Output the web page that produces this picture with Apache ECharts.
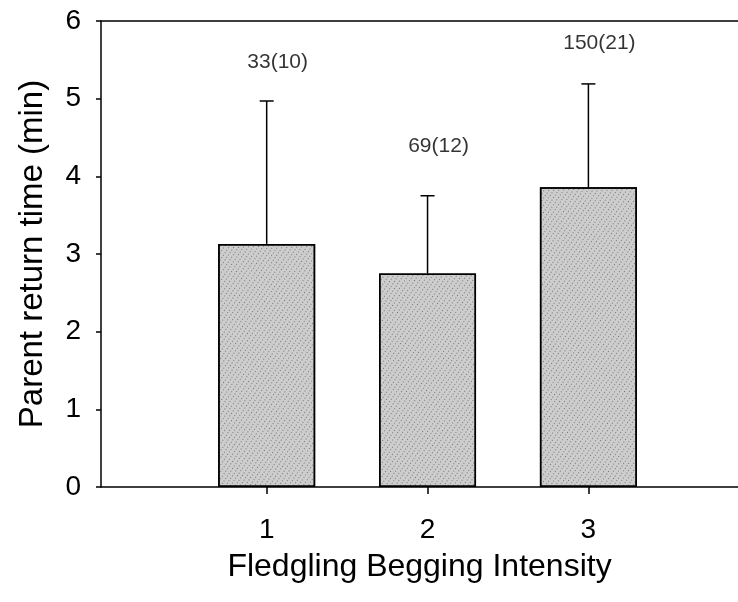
<!DOCTYPE html>
<html>
<head>
<meta charset="utf-8">
<script src="https://cdn.jsdelivr.net/npm/echarts@6/dist/echarts.min.js"></script>
<style>
  html, body { margin: 0; padding: 0; background: #fff; }
  #container { width: 738px; height: 602px; }
</style>
</head>
<body>
<div id="container"></div>
<script>
var dom = document.getElementById("container");

// intensity levels and mean parent return time (min)
var levels = [1, 2, 3];
var means = [3.13, 2.75, 3.86];
var upper = [4.97, 3.75, 5.19];
// sample sizes, shown above each bar, and their height in axis units
var sampleLabels = ["33(10)", "69(12)", "150(21)"];
var sampleLabelY = [5.47, 4.39, 5.72];

var font = "Liberation Sans";
var myChart = echarts.init(dom, null, { renderer: "canvas" });

var barData = levels.map(function (x, i) { return [x, means[i]]; });
var errData = levels.map(function (x, i) { return [x, means[i], upper[i]]; });
var labelData = levels.map(function (x, i) { return [x, sampleLabelY[i], sampleLabels[i]]; });

var line = { color: "#000", width: 1.5 };

var option = {
  backgroundColor: "#fff",
  animation: false,
  grid: {
    left: 101,
    right: 0,
    top: 21,
    bottom: 115
  },
  xAxis: [
    {
      type: "value",
      min: -0.03,
      max: 3.93,
      name: "Fledgling Begging Intensity",
      nameLocation: "middle",
      nameGap: 64,
      nameTextStyle: { fontFamily: font, fontSize: 32, color: "#000" },
      axisLine: { show: true, onZero: false, lineStyle: line },
      axisTick: { show: true, customValues: levels, length: 7, lineStyle: line },
      axisLabel: { customValues: levels, margin: 29, fontFamily: font, fontSize: 28, color: "#000" },
      splitLine: { show: false }
    },
    {
      // top frame line only
      type: "value",
      position: "top",
      min: -0.03,
      max: 3.93,
      axisLine: { show: true, onZero: false, lineStyle: line },
      axisTick: { show: false },
      axisLabel: { show: false },
      splitLine: { show: false }
    }
  ],
  yAxis: {
    type: "value",
    min: 0,
    max: 6,
    interval: 1,
    name: "Parent return time (min)",
    nameLocation: "middle",
    nameGap: 52,
    nameTextStyle: { fontFamily: font, fontSize: 33, color: "#000" },
    axisLine: { show: true, onZero: false, lineStyle: line },
    axisTick: { show: true, length: 5, lineStyle: line },
    axisLabel: { margin: 20, fontFamily: font, fontSize: 28, color: "#000" },
    splitLine: { show: false }
  },
  series: [
    {
      type: "bar",
      data: barData,
      barWidth: 97,
      itemStyle: {
        color: "#cdcdcd",
        borderColor: "#000",
        borderWidth: 1.5,
        decal: {
          symbol: "rect",
          symbolSize: 1,
          color: "rgba(30,30,30,0.5)",
          dashArrayX: [1, 3],
          dashArrayY: [1, 2],
          rotation: 0.6
        }
      },
      z: 2
    },
    {
      type: "custom",
      data: errData,
      z: 3,
      renderItem: function (params, api) {
        var base = api.coord([api.value(0), api.value(1)]);
        var top = api.coord([api.value(0), api.value(2)]);
        var half = 7;
        var style = { stroke: "#000", lineWidth: 1.5 };
        return {
          type: "group",
          children: [
            { type: "line", shape: { x1: base[0], y1: base[1], x2: top[0], y2: top[1] }, style: style },
            { type: "line", shape: { x1: top[0] - half, y1: top[1], x2: top[0] + half, y2: top[1] }, style: style }
          ]
        };
      }
    },
    {
      type: "scatter",
      data: labelData,
      symbolSize: 0,
      silent: true,
      label: {
        show: true,
        position: "inside",
        offset: [11, 0],
        formatter: function (p) { return p.value[2]; },
        fontFamily: font,
        fontSize: 21,
        color: "#000",
        textBorderWidth: 0
      },
      z: 4
    }
  ]
};

myChart.setOption(option);
</script>
</body>
</html>
